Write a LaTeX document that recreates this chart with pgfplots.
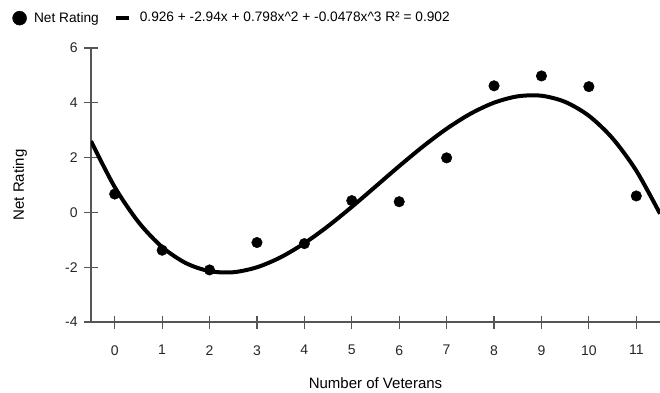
\documentclass[border=0pt]{standalone}
\usepackage{fontspec}
\setmainfont{Liberation Sans}
\usepackage{pgfplots}
\pgfplotsset{compat=1.18}
\definecolor{axgray}{HTML}{555555}
\begin{document}
\fontsize{14bp}{16bp}\selectfont
\begin{tikzpicture}
\begin{axis}[
  scale only axis, width=569bp, height=274bp,
  xmin=-0.5, xmax=11.5, ymin=-4, ymax=6,
  axis x line=bottom, axis y line=left,
  axis line style={axgray, line width=1.2bp, -},
  x axis line style={shorten <=-7bp},
  xtick={0,...,11}, ytick={-4,-2,...,6},
  major tick length=13bp, tick align=center,
  tick style={axgray, line width=1.2bp},
  tick label style={font=\fontsize{14bp}{16bp}\selectfont, text=black!85},
  xticklabel style={yshift=-12bp},
  yticklabel style={xshift=-2bp},
  /pgf/number format/assume math mode=true,
  xlabel={Number of Veterans}, ylabel={Net Rating},
  label style={font=\fontsize{15bp}{17bp}\selectfont},
  xlabel style={at={(axis description cs:0.5,-0.222)}, anchor=center},
  ylabel style={at={(axis description cs:-0.125,0.5)}, anchor=center},
  legend columns=2,
  legend style={draw=none, fill=none, at={(axis description cs:-0.1385,1.109)}, anchor=west,
    font=\fontsize{13.7bp}{16bp}\selectfont, inner sep=0pt,
    /tikz/every even column/.append style={column sep=13bp}},
]
\addplot[only marks, mark=*, mark size=5.3bp, black,
  legend image code/.code={\fill[black] (0,0) circle (7bp); \path (-7bp,0) (12.3bp,0);}]
  coordinates {(0,0.67) (1,-1.38) (2,-2.1) (3,-1.1) (4,-1.14) (5,0.43) (6,0.39) (7,1.99) (8,4.62) (9,4.98) (10,4.59) (11,0.6)};
\addlegendentry{Net Rating}
\addplot[black, line width=4bp, smooth, no marks,
  legend image code/.code={\draw[black, line width=4.5bp] (-6.5bp,0)--(6.5bp,0); \path (13.3bp,0);}]
  coordinates {(-0.5,2.6015) (0,0.926) (0.5,-0.3505) (1,-1.2638) (1.5,-1.8498) (2,-2.1444) (2.5,-2.1834) (3,-2.0026) (3.5,-1.6379) (4,-1.1252) (4.5,-0.5003) (5,0.201) (5.5,0.9428) (6,1.6892) (6.5,2.4038) (7,3.0526) (7.5,3.5979) (8,4.0044) (8.5,4.2368) (9,4.2578) (9.5,4.0322) (10,3.526) (10.5,2.701) (11,1.5222) (11.5,-0.0463)};
\addlegendentry{0.926 + -2.94x + 0.798x\textasciicircum 2 + -0.0478x\textasciicircum 3 R² = 0.902}
\end{axis}
\pgfresetboundingbox
\path[use as bounding box] (-91bp,-71bp) rectangle (569bp,322bp);
\end{tikzpicture}
\end{document}
